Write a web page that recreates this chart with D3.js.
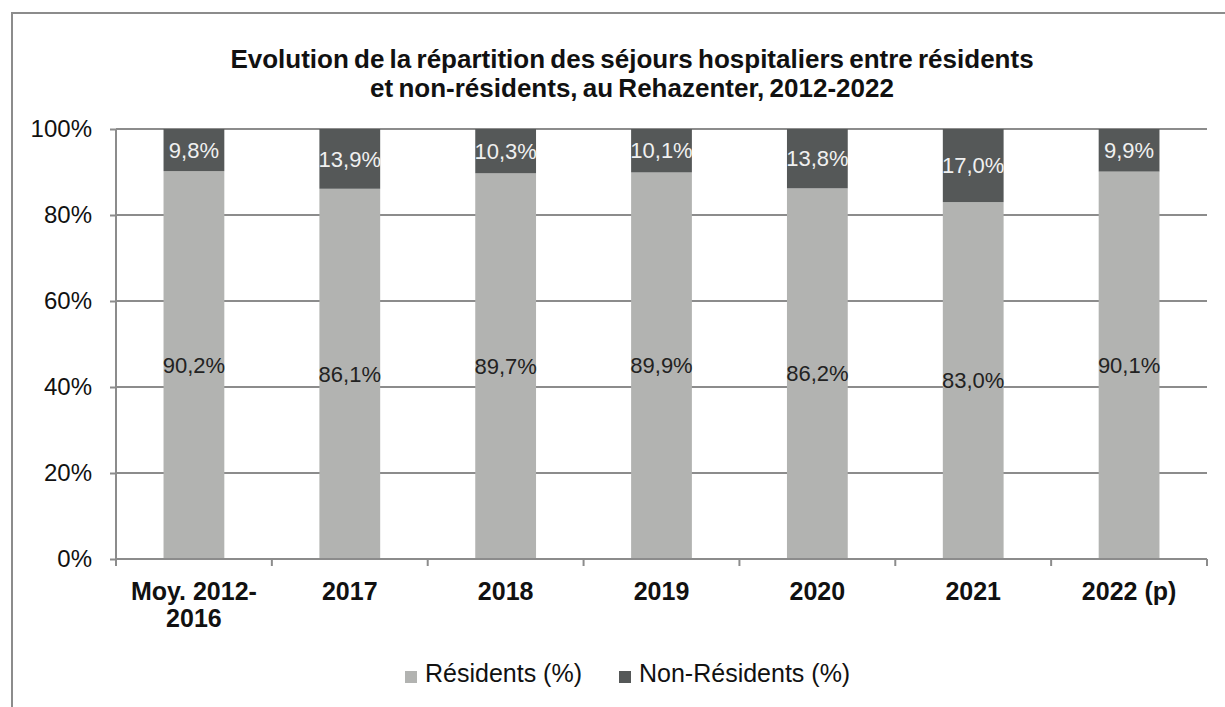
<!DOCTYPE html>
<html>
<head>
<meta charset="utf-8">
<style>
body { margin: 0; background: #fff; }
svg text { font-family: "Liberation Sans", Arial, sans-serif; }
</style>
</head>
<body>
<svg width="1225" height="707"></svg>
<script src="https://d3js.org/d3.v7.min.js"></script>
<script>

// data
var categories = ["Moy. 2012-\n2016", "2017", "2018", "2019", "2020", "2021", "2022 (p)"];
var residents = [90.2, 86.1, 89.7, 89.9, 86.2, 83.0, 90.1];
var nonResidents = [9.8, 13.9, 10.3, 10.1, 13.8, 17.0, 9.9];
var yTicks = [0, 20, 40, 60, 80, 100];
var seriesNames = ["Résidents (%)", "Non-Résidents (%)"];
var colors = ["#b2b3b1", "#555858"];

var fmt = function(v) { return d3.format(".1f")(v).replace(".", ",") + "%"; };

var svg = d3.select("svg"),
    margin = {top: 129, right: 18, bottom: 148, left: 116},
    width = +svg.attr("width") - margin.left - margin.right,
    height = +svg.attr("height") - margin.top - margin.bottom;

// outer frame (runs off the right and bottom edges)
svg.append("rect")
    .attr("x", 12).attr("y", 13)
    .attr("width", 1300).attr("height", 800)
    .attr("fill", "none")
    .attr("stroke", "#8c8c8c")
    .attr("stroke-width", 2);

// title
var title = svg.append("text")
    .attr("text-anchor", "middle")
    .attr("font-size", 26)
    .attr("font-weight", "bold")
    .attr("word-spacing", -2)
    .attr("fill", "#111");
title.append("tspan").attr("x", 632).attr("y", 68)
    .text("Evolution de la répartition des séjours hospitaliers entre résidents");
title.append("tspan").attr("x", 632).attr("y", 97)
    .text("et non-résidents, au Rehazenter, 2012-2022");

var g = svg.append("g")
    .attr("transform", "translate(" + margin.left + "," + margin.top + ")");

var x = d3.scaleBand()
    .domain(categories)
    .range([0, width])
    .paddingInner(0.61)
    .paddingOuter(0.305);

var y = d3.scaleLinear()
    .domain([0, 100])
    .range([height, 0]);

// gridlines
g.append("g")
    .selectAll("line")
    .data(yTicks.filter(function(d) { return d > 0; }))
    .join("line")
    .attr("x1", 0).attr("x2", width)
    .attr("y1", function(d) { return y(d); })
    .attr("y2", function(d) { return y(d); })
    .attr("stroke", "#8c8c8c")
    .attr("stroke-width", 2);

// stacked bars
var rows = categories.map(function(c, i) {
    return {cat: c, res: residents[i], non: nonResidents[i]};
});

g.append("g").selectAll("rect")
    .data(rows)
    .join("rect")
    .attr("x", function(d) { return x(d.cat); })
    .attr("width", x.bandwidth())
    .attr("y", function(d) { return y(d.res); })
    .attr("height", function(d) { return y(0) - y(d.res); })
    .attr("fill", colors[0]);

g.append("g").selectAll("rect")
    .data(rows)
    .join("rect")
    .attr("x", function(d) { return x(d.cat); })
    .attr("width", x.bandwidth())
    .attr("y", y(100))
    .attr("height", function(d) { return y(d.res) - y(100); })
    .attr("fill", colors[1]);

// data labels
g.append("g").selectAll("text")
    .data(rows)
    .join("text")
    .attr("x", function(d) { return x(d.cat) + x.bandwidth() / 2; })
    .attr("y", function(d) { return y(d.res / 2); })
    .attr("dy", "0.35em")
    .attr("text-anchor", "middle")
    .attr("font-size", 22)
    .attr("fill", "#222")
    .text(function(d) { return fmt(d.res); });

g.append("g").selectAll("text")
    .data(rows)
    .join("text")
    .attr("x", function(d) { return x(d.cat) + x.bandwidth() / 2; })
    .attr("y", function(d) { return y(d.res + d.non / 2); })
    .attr("dy", "0.35em")
    .attr("text-anchor", "middle")
    .attr("font-size", 22)
    .attr("fill", "#f0f0f0")
    .text(function(d) { return fmt(d.non); });

// y axis
var yAxis = g.append("g")
    .call(d3.axisLeft(y).tickValues(yTicks).tickSize(6).tickPadding(18)
        .tickFormat(function(d) { return d + "%"; }));
yAxis.selectAll("path, line").attr("stroke", "#8c8c8c").attr("stroke-width", 2);
yAxis.select(".domain").attr("d", "M0," + y(100) + "V" + y(0));
yAxis.selectAll("text")
    .attr("font-size", 24)
    .attr("fill", "#111")
    .style("font-family", "'Liberation Sans', Arial, sans-serif");

// x axis with boundary ticks
var xg = g.append("g").attr("transform", "translate(0," + height + ")");
xg.append("line")
    .attr("x1", 0).attr("x2", width)
    .attr("stroke", "#8c8c8c").attr("stroke-width", 2);
var bounds = d3.range(categories.length + 1).map(function(i) {
    return i === 0 ? 0 : x(categories[i - 1]) + x.bandwidth() + x.step() * x.paddingInner() / 2;
});
bounds[bounds.length - 1] = width;
xg.selectAll("line.tick")
    .data(bounds)
    .join("line")
    .attr("class", "tick")
    .attr("x1", function(d) { return d; }).attr("x2", function(d) { return d; })
    .attr("y1", 0).attr("y2", 7)
    .attr("stroke", "#8c8c8c").attr("stroke-width", 2);

xg.selectAll("text.lbl")
    .data(categories)
    .join("text")
    .attr("class", "lbl")
    .attr("text-anchor", "middle")
    .attr("font-size", 25)
    .attr("font-weight", "bold")
    .attr("fill", "#111")
    .each(function(d) {
        var t = d3.select(this);
        d.split("\n").forEach(function(part, i) {
            t.append("tspan")
                .attr("x", x(d) + x.bandwidth() / 2)
                .attr("y", 41 + i * 27)
                .text(part);
        });
    });

// legend
var legendX = [405, 619];
var legend = svg.append("g").selectAll("g")
    .data(seriesNames)
    .join("g")
    .attr("transform", function(d, i) { return "translate(" + legendX[i] + ",671)"; });
legend.append("rect")
    .attr("width", 12).attr("height", 12)
    .attr("fill", function(d, i) { return colors[i]; });
legend.append("text")
    .attr("x", 20).attr("y", 11)
    .attr("font-size", 25)
    .attr("fill", "#111")
    .text(function(d) { return d; });

</script>
</body>
</html>
